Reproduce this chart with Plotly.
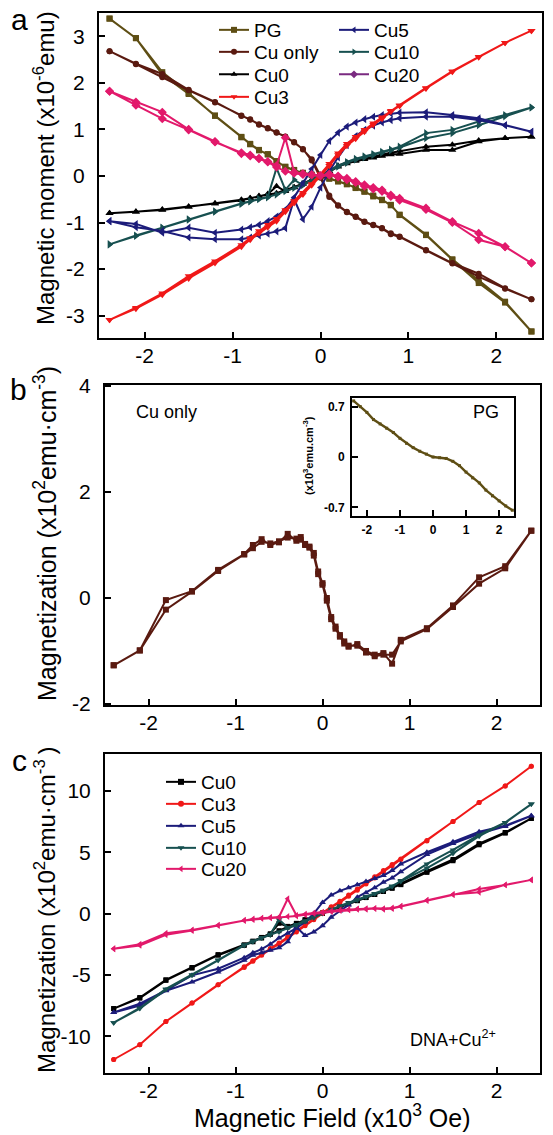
import plotly.graph_objects as go

W, HPX = 553, 1135

# ---------------- data ----------------
H = [-2.4, -2.1, -1.8, -1.5, -1.2, -0.9, -0.8, -0.7, -0.6, -0.5, -0.4, -0.3, -0.2, -0.1, 0.0,
     0.1, 0.2, 0.3, 0.4, 0.5, 0.6, 0.7, 0.8, 0.9, 1.2, 1.5, 1.8, 2.1, 2.4]

# panel a (x10^-6 emu); *_dn = branch swept from +H to -H, *_up = from -H to +H (both listed in H order)
pg_dn = [3.38, 2.96, 2.23, 1.78, 1.29, 0.84, 0.68, 0.55, 0.47, 0.32, 0.19, 0.12, 0.07, 0.03, 0.0, -0.05, -0.12, -0.18, -0.25, -0.33, -0.44, -0.52, -0.62, -0.84, -1.27, -1.80, -2.30, -2.72, -3.34]
pg_up = [3.38, 2.96, 2.18, 1.76, 1.30, 0.83, 0.69, 0.56, 0.46, 0.31, 0.20, 0.13, 0.06, 0.02, -0.01, -0.06, -0.11, -0.17, -0.26, -0.34, -0.42, -0.51, -0.63, -0.83, -1.26, -1.79, -2.24, -2.70, -3.34]
cuonly_dn = [2.68, 2.41, 2.19, 1.85, 1.59, 1.29, 1.22, 1.10, 1.03, 0.94, 0.84, 0.73, 0.57, 0.36, 0.0, -0.42, -0.63, -0.77, -0.87, -0.98, -1.05, -1.12, -1.23, -1.30, -1.59, -1.87, -2.10, -2.41, -2.65]
cuonly_up = [2.68, 2.40, 2.12, 1.84, 1.58, 1.30, 1.21, 1.11, 1.02, 0.93, 0.85, 0.72, 0.58, 0.33, -0.04, -0.45, -0.64, -0.78, -0.88, -0.99, -1.06, -1.13, -1.25, -1.31, -1.60, -1.88, -2.16, -2.42, -2.65]
cu0_dn = [-0.80, -0.77, -0.72, -0.66, -0.59, -0.52, -0.48, -0.44, -0.40, -0.37, -0.30, -0.24, -0.16, -0.08, 0.0, 0.10, 0.22, 0.29, 0.34, 0.38, 0.41, 0.46, 0.50, 0.54, 0.63, 0.67, 0.76, 0.81, 0.84]
cu0_up = [-0.80, -0.77, -0.73, -0.66, -0.59, -0.51, -0.48, -0.43, -0.39, -0.22, -0.33, -0.25, -0.17, -0.09, 0.0, 0.09, 0.20, 0.27, 0.32, 0.36, 0.39, 0.43, 0.46, 0.47, 0.56, 0.56, 0.74, 0.81, 0.84]
cu3_dn = [-3.09, -2.85, -2.55, -2.20, -1.87, -1.52, -1.37, -1.23, -1.10, -0.97, -0.77, -0.58, -0.40, -0.20, 0.0, 0.22, 0.45, 0.65, 0.80, 0.95, 1.10, 1.23, 1.38, 1.50, 1.88, 2.24, 2.55, 2.86, 3.12]
cu3_up = [-3.09, -2.83, -2.52, -2.15, -1.83, -1.48, -1.33, -1.18, -1.05, -0.92, -0.73, -0.54, -0.36, -0.17, 0.04, 0.26, 0.49, 0.69, 0.84, 0.99, 1.13, 1.26, 1.40, 1.52, 1.89, 2.25, 2.56, 2.86, 3.12]
cu5_dn = [-0.97, -1.03, -1.22, -1.11, -1.22, -1.15, -1.10, -1.05, -0.97, -0.87, -0.72, -0.46, -0.15, 0.15, 0.45, 0.75, 0.93, 1.06, 1.15, 1.22, 1.27, 1.31, 1.34, 1.36, 1.37, 1.31, 1.24, 1.09, 0.95]
cu5_up = [-0.97, -1.10, -1.18, -1.32, -1.36, -1.36, -1.32, -1.28, -1.24, -1.19, -1.12, -0.50, -0.93, -0.66, -0.25, 0.10, 0.40, 0.66, 0.86, 0.99, 1.08, 1.15, 1.20, 1.24, 1.27, 1.27, 1.20, 1.09, 0.95]
cu10_dn = [-1.47, -1.29, -1.12, -0.94, -0.77, -0.60, -0.55, -0.50, -0.46, -0.40, -0.33, -0.26, -0.18, -0.08, 0.02, 0.12, 0.22, 0.30, 0.37, 0.42, 0.47, 0.52, 0.57, 0.63, 0.92, 0.99, 1.17, 1.31, 1.47]
cu10_up = [-1.47, -1.28, -1.11, -0.93, -0.76, -0.59, -0.54, -0.49, -0.45, 0.17, -0.30, -0.08, -0.20, -0.10, 0.00, 0.10, 0.20, 0.28, 0.35, 0.40, 0.45, 0.50, 0.55, 0.61, 0.81, 0.92, 1.09, 1.28, 1.47]
cu20_dn = [1.82, 1.59, 1.37, 1.00, 0.74, 0.48, 0.43, 0.37, 0.30, 0.19, 0.10, 0.06, 0.03, 0.02, 0.01, 0.04, 0.00, -0.05, -0.12, -0.19, -0.25, -0.30, -0.41, -0.48, -0.69, -0.98, -1.23, -1.52, -1.87]
cu20_up = [1.82, 1.52, 1.23, 0.99, 0.73, 0.50, 0.45, 0.38, 0.31, 0.22, 0.82, 0.08, 0.05, 0.03, 0.0, 0.02, -0.02, -0.08, -0.14, -0.22, -0.28, -0.33, -0.44, -0.52, -0.72, -1.00, -1.37, -1.52, -1.87]

# panel b: Cu only (x10^2 emu cm^-3)
Hb = [-2.4, -2.1, -1.8, -1.5, -1.2, -0.9, -0.8, -0.7, -0.6, -0.5, -0.4, -0.3, -0.25, -0.2, -0.15, -0.1, -0.05, 0.0,
      0.05, 0.1, 0.15, 0.2, 0.25, 0.3, 0.4, 0.5, 0.6, 0.7, 0.8, 0.9, 1.2, 1.5, 1.8, 2.1, 2.4]
b_dn = [-1.27, -0.99, -0.04, 0.13, 0.53, 0.83, 1.00, 1.11, 1.00, 1.05, 1.21, 1.08, 1.15, 1.00, 0.97, 0.85, 0.50, 0.28,
        0.00, -0.36, -0.54, -0.70, -0.82, -0.92, -0.87, -1.00, -1.07, -1.04, -1.24, -0.79, -0.57, -0.14, 0.39, 0.60, 1.27]
b_up = [-1.27, -0.99, -0.22, 0.12, 0.51, 0.82, 0.94, 1.06, 1.03, 1.07, 1.14, 1.12, 1.10, 1.02, 0.95, 0.80, 0.45, 0.25,
        -0.05, -0.40, -0.58, -0.73, -0.86, -0.90, -0.90, -1.03, -1.10, -1.07, -1.07, -0.82, -0.59, -0.17, 0.27, 0.56, 1.27]

# inset: PG (x10^3 emu cm^-3)
Hi = [-2.4, -2.2, -2.0, -1.8, -1.6, -1.4, -1.2, -1.0, -0.8, -0.6, -0.4, -0.2, 0.0, 0.2, 0.4, 0.6, 0.8, 1.0, 1.2, 1.4, 1.6, 1.8, 2.0, 2.2, 2.4]
pg_inset = [0.78, 0.70, 0.62, 0.52, 0.46, 0.40, 0.34, 0.26, 0.19, 0.13, 0.08, 0.04, 0.00, -0.01, -0.02, -0.06, -0.12, -0.21, -0.29, -0.36, -0.46, -0.54, -0.61, -0.68, -0.74]

# panel c: DNA+Cu2+ (x10^2 emu cm^-3)
c_cu0_dn = [-7.75, -6.90, -5.45, -4.45, -3.40, -2.60, -2.30, -2.00, -1.70, -1.40, -1.10, -0.85, -0.55, -0.30, 0.00, 0.30, 0.55, 0.80, 1.05, 1.30, 1.55, 1.80, 2.10, 2.40, 3.45, 4.40, 5.70, 6.60, 7.75]
c_cu0_up = [-7.75, -6.85, -5.40, -4.40, -3.35, -2.55, -2.25, -1.95, -1.65, -0.80, -1.05, -0.80, -0.50, -0.25, 0.05, 0.30, 0.55, 0.80, 1.05, 1.30, 1.55, 1.80, 2.05, 2.35, 3.35, 4.30, 5.60, 6.55, 7.75]
c_cu3_dn = [-11.9, -10.7, -8.8, -7.3, -5.8, -4.4, -3.9, -3.4, -2.9, -2.5, -2.0, -1.5, -1.0, -0.5, 0.0, 0.5, 0.9, 1.4, 1.9, 2.4, 2.9, 3.4, 3.9, 4.4, 5.9, 7.5, 9.05, 10.4, 12.0]
c_cu3_up = [-11.9, -10.7, -8.8, -7.3, -5.8, -4.35, -3.85, -3.35, -2.85, -2.4, -1.9, -1.4, -0.9, -0.4, 0.1, 0.55, 1.0, 1.5, 2.0, 2.5, 3.0, 3.5, 4.0, 4.45, 5.95, 7.5, 9.05, 10.4, 12.0]
c_cu5_dn = [-8.07, -7.35, -6.26, -5.04, -4.50, -3.60, -3.20, -2.90, -2.50, -2.00, -1.60, -1.20, -0.70, 0.00, 0.90, 1.50, 1.85, 2.10, 2.35, 2.60, 2.85, 3.10, 3.50, 4.04, 4.99, 5.85, 6.67, 7.15, 7.97]
c_cu5_up = [-8.07, -7.50, -6.30, -5.58, -4.77, -3.82, -3.40, -3.20, -3.00, -2.80, -2.30, -1.10, -1.80, -1.50, -1.00, -0.30, 0.20, 0.70, 1.33, 1.70, 2.10, 2.55, 2.90, 3.40, 4.80, 5.70, 6.50, 7.10, 7.97]
c_cu10_dn = [-8.90, -7.75, -6.20, -5.04, -3.82, -2.60, -2.30, -2.00, -1.75, -1.50, -1.20, -0.95, -0.65, -0.35, 0.00, 0.30, 0.60, 0.85, 1.10, 1.35, 1.60, 1.85, 2.20, 2.68, 4.04, 5.18, 6.40, 7.42, 8.92]
c_cu10_up = [-8.90, -7.70, -6.15, -5.00, -3.80, -2.55, -2.25, -1.95, -1.70, -0.50, -1.15, -0.90, -0.60, -0.30, 0.05, 0.35, 0.62, 0.88, 1.12, 1.38, 1.62, 1.90, 2.25, 2.60, 3.70, 4.90, 6.30, 7.40, 8.92]
c_cu20_dn = [-2.87, -2.60, -1.73, -1.38, -0.98, -0.57, -0.50, -0.40, -0.35, -0.30, -0.25, -0.20, -0.10, 0.00, 0.05, 0.15, 0.25, 0.30, 0.35, 0.35, 0.40, 0.35, 0.40, 0.57, 1.06, 1.54, 2.00, 2.33, 2.74]
c_cu20_up = [-2.87, -2.50, -1.60, -1.35, -0.95, -0.55, -0.45, -0.38, -0.32, -0.28, 1.20, -0.15, -0.05, 0.05, 0.10, 0.20, 0.28, 0.33, 0.38, 0.40, 0.42, 0.40, 0.45, 0.60, 1.08, 1.55, 1.73, 2.33, 2.74]

legend_a_names = ["PG", "Cu only", "Cu0", "Cu3", "Cu5", "Cu10", "Cu20"]
legend_c_names = ["Cu0", "Cu3", "Cu5", "Cu10", "Cu20"]

# ---------------- style ----------------
FONT = "Liberation Sans, Arial, sans-serif"
C_PG = "#5e4e14"
C_CUONLY = "#5a1a10"
C_CU0 = "#000000"
C_CU3 = "#f01818"
C_CU5 = "#1c1c7a"
C_CU10 = "#175050"
C_CU20 = "#e2196b"
C_CU20_LEG = "#7a2a80"


def loop(h, dn, up):
    return list(reversed(h)) + list(h), list(reversed(dn)) + list(up)


fig = go.Figure()


def add_loop(h, dn, up, color, symbol, xa, ya, size=7, width=2):
    x, y = loop(h, dn, up)
    fig.add_trace(go.Scatter(
        x=x, y=y, mode="lines+markers",
        line=dict(color=color, width=width),
        marker=dict(color=color, symbol=symbol, size=size),
        xaxis=xa, yaxis=ya, showlegend=False))


# panel a
add_loop(H, pg_dn, pg_up, C_PG, "square", "x", "y", size=6)
add_loop(H, cuonly_dn, cuonly_up, C_CUONLY, "circle", "x", "y", size=6)
add_loop(H, cu0_dn, cu0_up, C_CU0, "triangle-up", "x", "y")
add_loop(H, cu10_dn, cu10_up, C_CU10, "triangle-right", "x", "y")
add_loop(H, cu5_dn, cu5_up, C_CU5, "triangle-left", "x", "y")
add_loop(H, cu3_dn, cu3_up, C_CU3, "triangle-down", "x", "y")
add_loop(H, cu20_dn, cu20_up, C_CU20, "diamond", "x", "y")

# panel b
add_loop(Hb, b_dn, b_up, C_CUONLY, "square", "x2", "y2", size=6)

# inset
fig.add_trace(go.Scatter(x=Hi, y=pg_inset, mode="lines+markers", line=dict(color=C_PG, width=2.4),
                         marker=dict(color=C_PG, size=3, symbol="square"),
                         xaxis="x4", yaxis="y4", showlegend=False))

# panel c
add_loop(H, c_cu0_dn, c_cu0_up, C_CU0, "square", "x3", "y3", size=5)
add_loop(H, c_cu3_dn, c_cu3_up, C_CU3, "circle", "x3", "y3", size=5)
add_loop(H, c_cu5_dn, c_cu5_up, C_CU5, "triangle-up", "x3", "y3", size=6)
add_loop(H, c_cu10_dn, c_cu10_up, C_CU10, "triangle-down", "x3", "y3", size=6)
add_loop(H, c_cu20_dn, c_cu20_up, C_CU20, "triangle-left", "x3", "y3", size=6)

# legend entries: one legend per row for exact placement
leg_a_style = {"PG": (C_PG, "square"), "Cu only": (C_CUONLY, "circle"), "Cu0": (C_CU0, "triangle-up"),
               "Cu3": (C_CU3, "triangle-down"), "Cu5": (C_CU5, "triangle-left"),
               "Cu10": (C_CU10, "triangle-right"), "Cu20": (C_CU20_LEG, "diamond")}
leg_a_pos = [(214, 30), (214, 52), (214, 74.5), (214, 97), (334, 30), (334, 52), (334, 74.5)]
leg_c_style = {"Cu0": (C_CU0, "square"), "Cu3": (C_CU3, "circle"), "Cu5": (C_CU5, "triangle-up"),
               "Cu10": (C_CU10, "triangle-down"), "Cu20": (C_CU20, "triangle-left")}
leg_c_pos = [(161, 782), (161, 804), (161, 826), (161, 848), (161, 869)]

legend_layout = {}
k = 1
for names, style, pos in [(legend_a_names, leg_a_style, leg_a_pos), (legend_c_names, leg_c_style, leg_c_pos)]:
    for nm, (px, py) in zip(names, pos):
        col, sym = style[nm]
        lname = "legend" if k == 1 else f"legend{k}"
        fig.add_trace(go.Scatter(x=[None], y=[None], mode="lines+markers", name=nm,
                                 line=dict(color=col, width=2), marker=dict(color=col, symbol=sym, size=6),
                                 xaxis="x", yaxis="y", legend=lname, showlegend=True))
        legend_layout[lname] = dict(x=px / W, y=1 - py / HPX, xanchor="left", yanchor="middle",
                                    bgcolor="rgba(0,0,0,0)", borderwidth=0,
                                    font=dict(family=FONT, size=19, color="black"), itemwidth=30)
        k += 1


def px_x(p):
    return p / W


def px_y(p):
    return 1 - p / HPX


def ax(domain, rng, tickvals, ticktext, anchor, size=21, bold=False, standoff=4):
    return dict(domain=domain, range=rng, tickvals=tickvals, ticktext=ticktext,
                ticks="inside", ticklen=6, tickwidth=1.5, tickcolor="black",
                showline=True, mirror=True, linecolor="black", linewidth=2,
                showgrid=False, zeroline=False, anchor=anchor, automargin=False,
                ticklabelstandoff=standoff,
                tickfont=dict(family=FONT, size=size, color="black",
                              weight="bold" if bold else "normal"))


xt = [-2, -1, 0, 1, 2]
xtt = ["-2", "-1", "0", "1", "2"]

fig.update_layout(
    width=W, height=HPX, margin=dict(l=0, r=0, t=0, b=0),
    paper_bgcolor="white", plot_bgcolor="white",
    font=dict(family=FONT, color="black"),
    xaxis=ax([px_x(99), px_x(542)], [-2.52, 2.52], xt, xtt, "y", standoff=-2),
    yaxis=ax([px_y(338), px_y(13)], [-3.48, 3.5], [-3, -2, -1, 0, 1, 2, 3],
             ["-3", "-2", "-1", "0", "1", "2", "3"], "x", standoff=8),
    xaxis2=ax([px_x(105), px_x(540)], [-2.5, 2.5], xt, xtt, "y2", standoff=-2),
    yaxis2=ax([px_y(705), px_y(385)], [-2.02, 4.02], [-2, 0, 2, 4], ["-2", "0", "2", "4"], "x2", standoff=8),
    xaxis3=ax([px_x(105), px_x(540)], [-2.5, 2.5], xt, xtt, "y3", standoff=-2),
    yaxis3=ax([px_y(1073), px_y(754)], [-13, 13], [-10, -5, 0, 5, 10], ["-10", "-5", "0", "5", "10"], "x3", standoff=8),
    xaxis4=ax([px_x(352), px_x(514)], [-2.45, 2.45], xt, xtt, "y4", size=12, bold=True, standoff=2),
    yaxis4=ax([px_y(516), px_y(398)], [-0.82, 0.82], [-0.7, 0, 0.7], ["-0.7", "0", "0.7"], "x4",
              size=12, bold=True, standoff=3),
    **legend_layout,
)

ann = [
    dict(text="a", x=px_x(19), y=px_y(1), size=30, yanchor="top"),
    dict(text="b", x=px_x(18), y=px_y(389), size=30),
    dict(text="c", x=px_x(19), y=px_y(760), size=30),
    dict(text="Magnetic moment (x10<sup>-6</sup>emu)", x=px_x(44), y=px_y(168), size=24, angle=-90),
    dict(text="Magnetization (x10<sup>2</sup>emu·cm<sup>-3</sup>)", x=px_x(45), y=px_y(534), size=25, angle=-90),
    dict(text="Magnetization (x10<sup>2</sup>emu·cm<sup>-3 </sup>)", x=px_x(45), y=px_y(910), size=24, angle=-90),
    dict(text="Magnetic Field (x10<sup>3</sup> Oe)", x=px_x(332), y=px_y(1116), size=25),
    dict(text="Cu only", x=px_x(166), y=px_y(412), size=18),
    dict(text="PG", x=px_x(486), y=px_y(412), size=18),
    dict(text="DNA+Cu<sup>2+</sup>", x=px_x(453), y=px_y(1038), size=18),
    dict(text="<b>(x10<sup>3</sup>emu.cm<sup>-3</sup>)</b>", x=px_x(308), y=px_y(456), size=11, angle=-90),
]
for a in ann:
    fig.add_annotation(text=a["text"], x=a["x"], y=a["y"], xref="paper", yref="paper",
                       xanchor="center", yanchor=a.get("yanchor", "middle"), showarrow=False,
                       textangle=a.get("angle", 0),
                       font=dict(family=FONT, size=a["size"], color="black"))

fig.write_html("out.html", config={"displayModeBar": False},
               post_script="document.body.style.margin='0px';")
